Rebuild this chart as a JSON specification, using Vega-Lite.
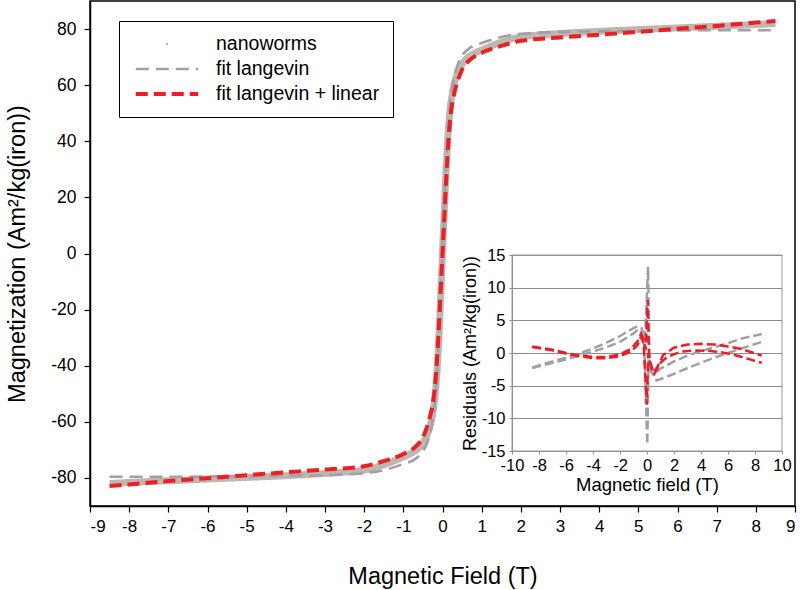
{
  "$schema": "https://vega.github.io/schema/vega-lite/v6.json",
  "width": 705,
  "height": 505,
  "autosize": "none",
  "padding": {"left": 90, "top": 1, "right": 5, "bottom": 84},
  "background": "white",
  "config": {
    "font": "Liberation Sans",
    "view": {"stroke": "black", "strokeWidth": 1.5},
    "axis": {"grid": false, "labelColor": "black", "titleColor": "black", "titleFontWeight": "normal", "labelFont": "Liberation Sans", "titleFont": "Liberation Sans"}
  },
  "datasets": {
    "main": [
      {"x": -8.5, "M": -82, "series": "nanoworms"},
      {"x": -8, "M": -81.6, "series": "nanoworms"},
      {"x": -7, "M": -81, "series": "nanoworms"},
      {"x": -6, "M": -80.4, "series": "nanoworms"},
      {"x": -5, "M": -79.8, "series": "nanoworms"},
      {"x": -4, "M": -79.2, "series": "nanoworms"},
      {"x": -3, "M": -78.4, "series": "nanoworms"},
      {"x": -2.5, "M": -77.9, "series": "nanoworms"},
      {"x": -2, "M": -77.2, "series": "nanoworms"},
      {"x": -1.5, "M": -75.3, "series": "nanoworms"},
      {"x": -1.25, "M": -74, "series": "nanoworms"},
      {"x": -1, "M": -72.5, "series": "nanoworms"},
      {"x": -0.8, "M": -71.2, "series": "nanoworms"},
      {"x": -0.6, "M": -69.2, "series": "nanoworms"},
      {"x": -0.5, "M": -67.5, "series": "nanoworms"},
      {"x": -0.4, "M": -64.8, "series": "nanoworms"},
      {"x": -0.3, "M": -60.5, "series": "nanoworms"},
      {"x": -0.25, "M": -57, "series": "nanoworms"},
      {"x": -0.2, "M": -52, "series": "nanoworms"},
      {"x": -0.15, "M": -44, "series": "nanoworms"},
      {"x": -0.1, "M": -32, "series": "nanoworms"},
      {"x": -0.06, "M": -20, "series": "nanoworms"},
      {"x": -0.03, "M": -10, "series": "nanoworms"},
      {"x": 0, "M": 0, "series": "nanoworms"},
      {"x": 0.03, "M": 10, "series": "nanoworms"},
      {"x": 0.06, "M": 20, "series": "nanoworms"},
      {"x": 0.1, "M": 32, "series": "nanoworms"},
      {"x": 0.15, "M": 44, "series": "nanoworms"},
      {"x": 0.2, "M": 52, "series": "nanoworms"},
      {"x": 0.25, "M": 57, "series": "nanoworms"},
      {"x": 0.3, "M": 60.5, "series": "nanoworms"},
      {"x": 0.4, "M": 64.8, "series": "nanoworms"},
      {"x": 0.5, "M": 67.5, "series": "nanoworms"},
      {"x": 0.6, "M": 69.2, "series": "nanoworms"},
      {"x": 0.8, "M": 71.2, "series": "nanoworms"},
      {"x": 1, "M": 72.5, "series": "nanoworms"},
      {"x": 1.25, "M": 74, "series": "nanoworms"},
      {"x": 1.5, "M": 75.3, "series": "nanoworms"},
      {"x": 2, "M": 77.2, "series": "nanoworms"},
      {"x": 2.5, "M": 77.9, "series": "nanoworms"},
      {"x": 3, "M": 78.4, "series": "nanoworms"},
      {"x": 4, "M": 79.2, "series": "nanoworms"},
      {"x": 5, "M": 79.8, "series": "nanoworms"},
      {"x": 6, "M": 80.4, "series": "nanoworms"},
      {"x": 7, "M": 81, "series": "nanoworms"},
      {"x": 8, "M": 81.6, "series": "nanoworms"},
      {"x": 8.5, "M": 82, "series": "nanoworms"},

      {"x": -8.5, "M": -79.6, "series": "fit langevin"},
      {"x": -8, "M": -79.6, "series": "fit langevin"},
      {"x": -7, "M": -79.6, "series": "fit langevin"},
      {"x": -6, "M": -79.5, "series": "fit langevin"},
      {"x": -5, "M": -79.4, "series": "fit langevin"},
      {"x": -4, "M": -79.2, "series": "fit langevin"},
      {"x": -3, "M": -79, "series": "fit langevin"},
      {"x": -2, "M": -78.3, "series": "fit langevin"},
      {"x": -1.5, "M": -77.2, "series": "fit langevin"},
      {"x": -1, "M": -75, "series": "fit langevin"},
      {"x": -0.7, "M": -73.3, "series": "fit langevin"},
      {"x": -0.5, "M": -70.5, "series": "fit langevin"},
      {"x": -0.4, "M": -67.8, "series": "fit langevin"},
      {"x": -0.3, "M": -63, "series": "fit langevin"},
      {"x": -0.2, "M": -54, "series": "fit langevin"},
      {"x": -0.15, "M": -45, "series": "fit langevin"},
      {"x": -0.1, "M": -33, "series": "fit langevin"},
      {"x": -0.05, "M": -17, "series": "fit langevin"},
      {"x": 0, "M": 0, "series": "fit langevin"},
      {"x": 0.05, "M": 17, "series": "fit langevin"},
      {"x": 0.1, "M": 33, "series": "fit langevin"},
      {"x": 0.15, "M": 45, "series": "fit langevin"},
      {"x": 0.2, "M": 54, "series": "fit langevin"},
      {"x": 0.3, "M": 63, "series": "fit langevin"},
      {"x": 0.4, "M": 67.8, "series": "fit langevin"},
      {"x": 0.5, "M": 70.5, "series": "fit langevin"},
      {"x": 0.7, "M": 73.3, "series": "fit langevin"},
      {"x": 1, "M": 75, "series": "fit langevin"},
      {"x": 1.5, "M": 77.2, "series": "fit langevin"},
      {"x": 2, "M": 78.3, "series": "fit langevin"},
      {"x": 3, "M": 79, "series": "fit langevin"},
      {"x": 4, "M": 79.2, "series": "fit langevin"},
      {"x": 5, "M": 79.4, "series": "fit langevin"},
      {"x": 6, "M": 79.5, "series": "fit langevin"},
      {"x": 7, "M": 79.6, "series": "fit langevin"},
      {"x": 8, "M": 79.6, "series": "fit langevin"},
      {"x": 8.5, "M": 79.6, "series": "fit langevin"},

      {"x": -8.5, "M": -82.9, "series": "fit langevin + linear"},
      {"x": -8, "M": -82.3, "series": "fit langevin + linear"},
      {"x": -7, "M": -81.1, "series": "fit langevin + linear"},
      {"x": -6, "M": -80.1, "series": "fit langevin + linear"},
      {"x": -5, "M": -79, "series": "fit langevin + linear"},
      {"x": -4, "M": -78, "series": "fit langevin + linear"},
      {"x": -3, "M": -77, "series": "fit langevin + linear"},
      {"x": -2, "M": -75.8, "series": "fit langevin + linear"},
      {"x": -1.5, "M": -74, "series": "fit langevin + linear"},
      {"x": -1, "M": -71.5, "series": "fit langevin + linear"},
      {"x": -0.7, "M": -69, "series": "fit langevin + linear"},
      {"x": -0.5, "M": -65.5, "series": "fit langevin + linear"},
      {"x": -0.4, "M": -62, "series": "fit langevin + linear"},
      {"x": -0.3, "M": -57, "series": "fit langevin + linear"},
      {"x": -0.2, "M": -48.5, "series": "fit langevin + linear"},
      {"x": -0.15, "M": -40, "series": "fit langevin + linear"},
      {"x": -0.1, "M": -28, "series": "fit langevin + linear"},
      {"x": -0.05, "M": -14, "series": "fit langevin + linear"},
      {"x": 0, "M": 0, "series": "fit langevin + linear"},
      {"x": 0.05, "M": 14, "series": "fit langevin + linear"},
      {"x": 0.1, "M": 28, "series": "fit langevin + linear"},
      {"x": 0.15, "M": 40, "series": "fit langevin + linear"},
      {"x": 0.2, "M": 48.5, "series": "fit langevin + linear"},
      {"x": 0.3, "M": 57, "series": "fit langevin + linear"},
      {"x": 0.4, "M": 62, "series": "fit langevin + linear"},
      {"x": 0.5, "M": 65.5, "series": "fit langevin + linear"},
      {"x": 0.7, "M": 69, "series": "fit langevin + linear"},
      {"x": 1, "M": 71.5, "series": "fit langevin + linear"},
      {"x": 1.5, "M": 74, "series": "fit langevin + linear"},
      {"x": 2, "M": 75.8, "series": "fit langevin + linear"},
      {"x": 3, "M": 77, "series": "fit langevin + linear"},
      {"x": 4, "M": 78, "series": "fit langevin + linear"},
      {"x": 5, "M": 79, "series": "fit langevin + linear"},
      {"x": 6, "M": 80.1, "series": "fit langevin + linear"},
      {"x": 7, "M": 81.1, "series": "fit langevin + linear"},
      {"x": 8, "M": 82.3, "series": "fit langevin + linear"},
      {"x": 8.5, "M": 82.9, "series": "fit langevin + linear"}
    ],
    "resid": [
      {"x": -8.5, "r": -2.3, "fit": "langevin", "branch": "up"},
      {"x": -7, "r": -1.5, "fit": "langevin", "branch": "up"},
      {"x": -6, "r": -1.0, "fit": "langevin", "branch": "up"},
      {"x": -5, "r": -0.4, "fit": "langevin", "branch": "up"},
      {"x": -4, "r": 0.2, "fit": "langevin", "branch": "up"},
      {"x": -3, "r": 0.9, "fit": "langevin", "branch": "up"},
      {"x": -2, "r": 1.7, "fit": "langevin", "branch": "up"},
      {"x": -1, "r": 3.0, "fit": "langevin", "branch": "up"},
      {"x": -0.6, "r": 3.7, "fit": "langevin", "branch": "up"},
      {"x": -0.4, "r": 3.4, "fit": "langevin", "branch": "up"},
      {"x": -0.2, "r": 1.0, "fit": "langevin", "branch": "up"},
      {"x": 0.02, "r": -14, "fit": "langevin", "branch": "up"},
      {"x": 0.12, "r": -1, "fit": "langevin", "branch": "up"},
      {"x": 0.3, "r": -2.8, "fit": "langevin", "branch": "up"},
      {"x": 0.7, "r": -4.2, "fit": "langevin", "branch": "up"},
      {"x": 1, "r": -4, "fit": "langevin", "branch": "up"},
      {"x": 2, "r": -3.2, "fit": "langevin", "branch": "up"},
      {"x": 3, "r": -2.3, "fit": "langevin", "branch": "up"},
      {"x": 4, "r": -1.5, "fit": "langevin", "branch": "up"},
      {"x": 5, "r": -0.7, "fit": "langevin", "branch": "up"},
      {"x": 6, "r": 0, "fit": "langevin", "branch": "up"},
      {"x": 7, "r": 0.7, "fit": "langevin", "branch": "up"},
      {"x": 8.5, "r": 1.7, "fit": "langevin", "branch": "up"},
      {"x": -8.5, "r": -2.2, "fit": "langevin", "branch": "down"},
      {"x": -7, "r": -1.3, "fit": "langevin", "branch": "down"},
      {"x": -6, "r": -0.7, "fit": "langevin", "branch": "down"},
      {"x": -5, "r": -0.05, "fit": "langevin", "branch": "down"},
      {"x": -4, "r": 0.7, "fit": "langevin", "branch": "down"},
      {"x": -3, "r": 1.6, "fit": "langevin", "branch": "down"},
      {"x": -2, "r": 2.6, "fit": "langevin", "branch": "down"},
      {"x": -1, "r": 3.8, "fit": "langevin", "branch": "down"},
      {"x": -0.7, "r": 4.1, "fit": "langevin", "branch": "down"},
      {"x": -0.4, "r": 3.8, "fit": "langevin", "branch": "down"},
      {"x": -0.15, "r": 2, "fit": "langevin", "branch": "down"},
      {"x": 0.08, "r": 13.2, "fit": "langevin", "branch": "down"},
      {"x": 0.18, "r": 0, "fit": "langevin", "branch": "down"},
      {"x": 0.4, "r": -2.5, "fit": "langevin", "branch": "down"},
      {"x": 0.6, "r": -3, "fit": "langevin", "branch": "down"},
      {"x": 1, "r": -2.4, "fit": "langevin", "branch": "down"},
      {"x": 2, "r": -1.3, "fit": "langevin", "branch": "down"},
      {"x": 3, "r": -0.4, "fit": "langevin", "branch": "down"},
      {"x": 4, "r": 0.3, "fit": "langevin", "branch": "down"},
      {"x": 5, "r": 0.9, "fit": "langevin", "branch": "down"},
      {"x": 6, "r": 1.5, "fit": "langevin", "branch": "down"},
      {"x": 7, "r": 2.2, "fit": "langevin", "branch": "down"},
      {"x": 8.5, "r": 2.9, "fit": "langevin", "branch": "down"},

      {"x": -8.5, "r": 1.0, "fit": "langevin + linear", "branch": "up"},
      {"x": -7, "r": 0.5, "fit": "langevin + linear", "branch": "up"},
      {"x": -6, "r": 0.0, "fit": "langevin + linear", "branch": "up"},
      {"x": -5, "r": -0.4, "fit": "langevin + linear", "branch": "up"},
      {"x": -4, "r": -0.6, "fit": "langevin + linear", "branch": "up"},
      {"x": -3, "r": -0.6, "fit": "langevin + linear", "branch": "up"},
      {"x": -2, "r": -0.2, "fit": "langevin + linear", "branch": "up"},
      {"x": -1.2, "r": 0.6, "fit": "langevin + linear", "branch": "up"},
      {"x": -0.7, "r": 1.8, "fit": "langevin + linear", "branch": "up"},
      {"x": -0.45, "r": 2.9, "fit": "langevin + linear", "branch": "up"},
      {"x": -0.25, "r": 2.0, "fit": "langevin + linear", "branch": "up"},
      {"x": -0.1, "r": 0.5, "fit": "langevin + linear", "branch": "up"},
      {"x": 0.05, "r": 8.1, "fit": "langevin + linear", "branch": "up"},
      {"x": 0.15, "r": -1.0, "fit": "langevin + linear", "branch": "up"},
      {"x": 0.3, "r": -2.0, "fit": "langevin + linear", "branch": "up"},
      {"x": 0.5, "r": -3.0, "fit": "langevin + linear", "branch": "up"},
      {"x": 0.8, "r": -2.0, "fit": "langevin + linear", "branch": "up"},
      {"x": 1.2, "r": -0.3, "fit": "langevin + linear", "branch": "up"},
      {"x": 2, "r": 0.8, "fit": "langevin + linear", "branch": "up"},
      {"x": 3, "r": 1.3, "fit": "langevin + linear", "branch": "up"},
      {"x": 4, "r": 1.4, "fit": "langevin + linear", "branch": "up"},
      {"x": 5, "r": 1.3, "fit": "langevin + linear", "branch": "up"},
      {"x": 6, "r": 1.0, "fit": "langevin + linear", "branch": "up"},
      {"x": 7, "r": 0.6, "fit": "langevin + linear", "branch": "up"},
      {"x": 8.5, "r": -0.4, "fit": "langevin + linear", "branch": "up"},
      {"x": -8.5, "r": 0.9, "fit": "langevin + linear", "branch": "down"},
      {"x": -7, "r": 0.4, "fit": "langevin + linear", "branch": "down"},
      {"x": -6, "r": -0.1, "fit": "langevin + linear", "branch": "down"},
      {"x": -5, "r": -0.5, "fit": "langevin + linear", "branch": "down"},
      {"x": -4, "r": -0.8, "fit": "langevin + linear", "branch": "down"},
      {"x": -3, "r": -0.8, "fit": "langevin + linear", "branch": "down"},
      {"x": -2, "r": -0.5, "fit": "langevin + linear", "branch": "down"},
      {"x": -1.2, "r": 0.2, "fit": "langevin + linear", "branch": "down"},
      {"x": -0.7, "r": 1.2, "fit": "langevin + linear", "branch": "down"},
      {"x": -0.45, "r": 2.5, "fit": "langevin + linear", "branch": "down"},
      {"x": -0.25, "r": 1.5, "fit": "langevin + linear", "branch": "down"},
      {"x": -0.02, "r": -7.9, "fit": "langevin + linear", "branch": "down"},
      {"x": 0.1, "r": 0, "fit": "langevin + linear", "branch": "down"},
      {"x": 0.3, "r": -2.2, "fit": "langevin + linear", "branch": "down"},
      {"x": 0.55, "r": -3.2, "fit": "langevin + linear", "branch": "down"},
      {"x": 1, "r": -1.5, "fit": "langevin + linear", "branch": "down"},
      {"x": 1.5, "r": -0.6, "fit": "langevin + linear", "branch": "down"},
      {"x": 2.5, "r": 0.2, "fit": "langevin + linear", "branch": "down"},
      {"x": 3.5, "r": 0.4, "fit": "langevin + linear", "branch": "down"},
      {"x": 4.5, "r": 0.35, "fit": "langevin + linear", "branch": "down"},
      {"x": 5.5, "r": 0.1, "fit": "langevin + linear", "branch": "down"},
      {"x": 6.5, "r": -0.3, "fit": "langevin + linear", "branch": "down"},
      {"x": 7.5, "r": -0.9, "fit": "langevin + linear", "branch": "down"},
      {"x": 8.5, "r": -1.5, "fit": "langevin + linear", "branch": "down"}
    ]
  },
  "resolve": {"scale": {"x": "independent", "y": "independent"}, "axis": {"x": "independent", "y": "independent"}},
  "layer": [
    {
      "data": {"name": "main"},
      "mark": {"type": "line", "interpolate": "monotone"},
      "encoding": {
        "x": {"field": "x", "type": "quantitative",
          "scale": {"domain": [-9, 9], "nice": false},
          "axis": {"orient": "bottom", "title": "Magnetic Field (T)", "values": [-9,-8,-7,-6,-5,-4,-3,-2,-1,0,1,2,3,4,5,6,7,8,9],
            "labelExpr": "'' + datum.value",
            "labelFontSize": 17, "titleFontSize": 23.5, "titlePadding": 30, "labelPadding": 6, "tickSize": 6,
            "domainColor": "black", "tickColor": "black", "domainWidth": 1.5, "tickWidth": 1.2}},
        "y": {"field": "M", "type": "quantitative",
          "scale": {"domain": [-90, 90], "nice": false},
          "axis": {"orient": "left", "title": "Magnetization (Am²/kg(iron))", "values": [-80,-60,-40,-20,0,20,40,60,80],
            "labelExpr": "'' + datum.value",
            "labelFontSize": 17.5, "titleFontSize": 23.5, "titlePadding": 21, "labelPadding": 8, "tickSize": 6,
            "domainColor": "black", "tickColor": "black", "domainWidth": 1.5, "tickWidth": 1.2}},
        "color": {"field": "series", "type": "nominal",
          "scale": {"domain": ["nanoworms", "fit langevin", "fit langevin + linear"], "range": ["#bdb8af", "#a39ea9", "#f01e23"]},
          "legend": {
            "title": null, "orient": "none", "legendX": 29, "legendY": 20,
            "strokeColor": "black", "fillColor": "white", "padding": 13,
            "symbolType": "stroke", "symbolSize": 3900, "symbolStrokeWidth": 3,
            "labelFontSize": 19.5, "labelOffset": 14, "rowPadding": 5, "clipHeight": 20, "labelLimit": 400,
            "encode": {"symbols": {"update": {
              "shape": {"signal": "datum.value === 'nanoworms' ? 'circle' : 'stroke'"},
              "size": {"signal": "datum.value === 'nanoworms' ? 5 : 3900"},
              "strokeWidth": {"signal": "datum.value === 'nanoworms' ? 0 : (datum.value === 'fit langevin' ? 3 : 4)"},
              "strokeOpacity": {"signal": "datum.value === 'nanoworms' ? 0 : 1"},
              "fill": {"signal": "datum.value === 'nanoworms' ? '#a8a398' : 'transparent'"}
            }}}
          }},
        "strokeDash": {"field": "series", "type": "nominal",
          "scale": {"domain": ["nanoworms", "fit langevin", "fit langevin + linear"], "range": [[1, 0], [13, 7], [12, 6]]}},
        "strokeWidth": {"field": "series", "type": "nominal",
          "scale": {"type": "ordinal", "domain": ["nanoworms", "fit langevin", "fit langevin + linear"], "range": [7, 2.6, 4]}, "legend": null}
      }
    },
    {
      "data": {"values": [{}]},
      "mark": {"type": "rect", "filled": false, "stroke": "#9a9a9a", "strokeWidth": 1},
      "encoding": {
        "x": {"datum": -10, "type": "quantitative", "scale": {"domain": [-10, 10], "range": [422, 692], "nice": false}, "axis": null},
        "x2": {"datum": 10},
        "y": {"datum": -15, "type": "quantitative", "scale": {"domain": [-15, 15], "range": [450, 254], "nice": false}, "axis": null},
        "y2": {"datum": 15}
      }
    },
    {
      "data": {"name": "resid"},
      "transform": [{"filter": "datum.fit === 'langevin'"}],
      "mark": {"type": "line", "stroke": "#a09ea8", "strokeWidth": 2.5, "strokeDash": [9, 4]},
      "encoding": {
        "x": {"field": "x", "type": "quantitative",
          "scale": {"domain": [-10, 10], "range": [422, 692], "nice": false},
          "axis": {"orient": "bottom", "offset": -55, "title": "Magnetic field (T)", "values": [-10,-8,-6,-4,-2,0,2,4,6,8,10],
            "labelExpr": "'' + datum.value", "labelOverlap": false, "labelFlush": false,
            "labelFontSize": 16.5, "titleFontSize": 18.5, "titlePadding": 2, "labelPadding": 3, "tickSize": 3,
            "domainColor": "#8a8a8a", "tickColor": "#8a8a8a"}},
        "y": {"field": "r", "type": "quantitative",
          "scale": {"domain": [-15, 15], "range": [450, 254], "nice": false},
          "axis": {"orient": "left", "offset": -422, "title": "Residuals (Am²/kg(iron))", "values": [-15,-10,-5,0,5,10,15],
            "labelExpr": "'' + datum.value", "labelOverlap": false, "labelFlush": false,
            "labelFontSize": 16.5, "titleFontSize": 18, "titlePadding": 2, "labelPadding": 4, "tickSize": 3,
            "domainColor": "#8a8a8a", "tickColor": "#8a8a8a", "grid": true, "gridColor": "#8c8c8c", "gridWidth": 1}},
        "detail": {"field": "branch"}
      }
    },
    {
      "data": {"name": "resid"},
      "transform": [{"filter": "datum.fit === 'langevin + linear'"}],
      "mark": {"type": "line", "stroke": "#ee1c24", "strokeWidth": 2.5, "strokeDash": [9, 4]},
      "encoding": {
        "x": {"field": "x", "type": "quantitative", "scale": {"domain": [-10, 10], "range": [422, 692], "nice": false}, "axis": null},
        "y": {"field": "r", "type": "quantitative", "scale": {"domain": [-15, 15], "range": [450, 254], "nice": false}, "axis": null},
        "detail": {"field": "branch"}
      }
    }
  ]
}
